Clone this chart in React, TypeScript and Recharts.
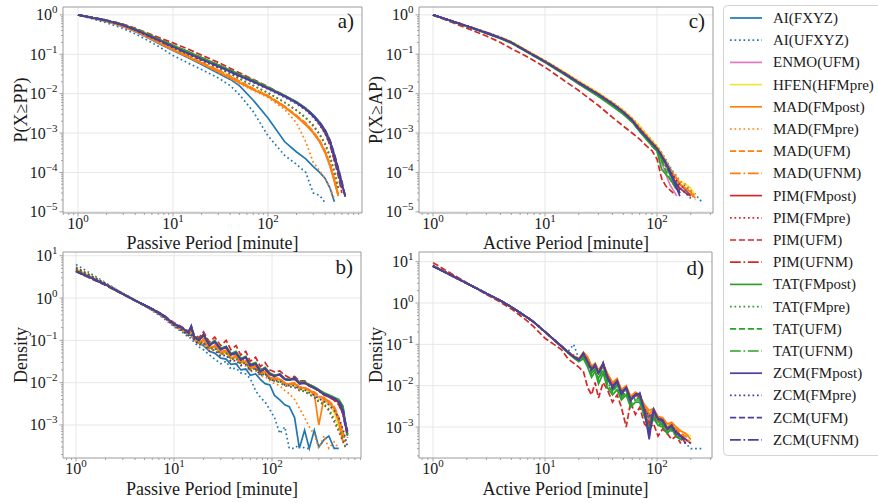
import React from 'react';
import { LineChart, Line, XAxis, YAxis, CartesianGrid } from 'recharts';

const FONT = "'Liberation Serif', 'Times New Roman', Times, serif";
const FRAME = '#9a9a9a';
const GRID = '#e4e4e4';
const TEXT = '#1a1a1a';

// ---------- series ----------
const SERIES_NAMES = [
  'AI(FXYZ)', 'AI(UFXYZ)', 'ENMO(UFM)', 'HFEN(HFMpre)',
  'MAD(FMpost)', 'MAD(FMpre)', 'MAD(UFM)', 'MAD(UFNM)',
  'PIM(FMpost)', 'PIM(FMpre)', 'PIM(UFM)', 'PIM(UFNM)',
  'TAT(FMpost)', 'TAT(FMpre)', 'TAT(UFM)', 'TAT(UFNM)',
  'ZCM(FMpost)', 'ZCM(FMpre)', 'ZCM(UFM)', 'ZCM(UFNM)',
];
const SERIES_COLORS = [
  '#1f77b4', '#1f77b4', '#e377c2', '#f2e53a',
  '#ff7f0e', '#ff7f0e', '#ff7f0e', '#ff7f0e',
  '#d62728', '#d62728', '#d62728', '#d62728',
  '#2ca02c', '#2ca02c', '#2ca02c', '#2ca02c',
  '#4d3f9e', '#4d3f9e', '#4d3f9e', '#4d3f9e',
];
const SOLID = undefined;
const DOTTED = '1.7 2.8';
const DASHED = '6.2 2.7';
const DASHDOT = '10.8 2.7 1.7 2.7';
const SERIES_DASH = [
  SOLID, DOTTED, SOLID, SOLID,
  SOLID, DOTTED, DASHED, DASHDOT,
  SOLID, DOTTED, DASHED, DASHDOT,
  SOLID, DOTTED, DASHED, DASHDOT,
  SOLID, DOTTED, DASHED, DASHDOT,
];

type Row = (number | null)[];

// ---------- a) CCDF of passive periods ----------
const X_PASSIVE_CCDF = [1, 2, 3, 4, 5, 7, 10, 15, 20, 30, 40, 50, 70, 100, 150, 200, 250, 300, 350, 400, 450, 500, 550, 600, 650];
const PASSIVE_CCDF: Record<string, Row> = {
  'AI(FXYZ)': [1, 0.68, 0.5, 0.38, 0.29, 0.19, 0.125, 0.078, 0.055, 0.033, 0.023, 0.016, 0.0068, 0.0024, 0.0006, 0.00033, 0.00022, 0.00014, 0.0001, 0.00007, 0.00004, 0.000018],
  'AI(UFXYZ)': [1, 0.63, 0.45, 0.33, 0.25, 0.16, 0.093, 0.057, 0.041, 0.025, 0.016, 0.0095, 0.0035, 0.00085, 0.00027, 0.00016, 0.0001, 0.00003, 0.000026, 0.000017],
  'ENMO(UFM)': [1, 0.69, 0.51, 0.39, 0.3, 0.2, 0.13, 0.083, 0.059, 0.037, 0.026, 0.0195, 0.0128, 0.0087, 0.0046, 0.0027, 0.0017, 0.001, 0.0006, 0.00031, 0.00014, 0.00006, 0.000026],
  'HFEN(HFMpre)': [1, 0.7, 0.52, 0.4, 0.31, 0.205, 0.135, 0.086, 0.061, 0.038, 0.027, 0.02, 0.013, 0.0089, 0.0047, 0.0027, 0.0017, 0.00105, 0.00062, 0.00033, 0.00015, 0.000065, 0.000025],
  'MAD(FMpost)': [1, 0.69, 0.51, 0.39, 0.3, 0.2, 0.13, 0.082, 0.058, 0.036, 0.025, 0.019, 0.0125, 0.0085, 0.0045, 0.0026, 0.0016, 0.001, 0.0006, 0.00032, 0.00015, 0.00006, 0.000025],
  'MAD(FMpre)': [1, 0.68, 0.5, 0.38, 0.29, 0.195, 0.127, 0.08, 0.057, 0.035, 0.024, 0.018, 0.012, 0.008, 0.004, 0.0018, 0.0006, 0.00018, 0.00011, 0.00007, 0.00004, 0.000022],
  'MAD(UFM)': [1, 0.7, 0.52, 0.4, 0.31, 0.21, 0.137, 0.088, 0.063, 0.04, 0.028, 0.021, 0.0135, 0.009, 0.0048, 0.0028, 0.0018, 0.0011, 0.00065, 0.00035, 0.00017, 0.00007, 0.000028],
  'MAD(UFNM)': [1, 0.7, 0.52, 0.4, 0.305, 0.205, 0.134, 0.086, 0.061, 0.039, 0.027, 0.0205, 0.013, 0.0088, 0.0047, 0.0027, 0.0017, 0.00105, 0.00063, 0.00033, 0.00016, 0.000065, 0.000026],
  'PIM(FMpost)': [1, 0.72, 0.56, 0.43, 0.34, 0.24, 0.165, 0.108, 0.08, 0.052, 0.038, 0.029, 0.021, 0.014, 0.0087, 0.006, 0.0041, 0.0027, 0.0017, 0.001, 0.00055, 0.00022, 0.0001, 0.00004],
  'PIM(FMpre)': [1, 0.71, 0.54, 0.42, 0.33, 0.225, 0.15, 0.097, 0.07, 0.045, 0.032, 0.024, 0.016, 0.0105, 0.006, 0.0037, 0.0024, 0.0015, 0.0009, 0.0005, 0.00024, 0.0001, 0.00004],
  'PIM(UFM)': [1, 0.74, 0.58, 0.46, 0.37, 0.27, 0.195, 0.13, 0.095, 0.062, 0.044, 0.034, 0.023, 0.015, 0.009, 0.006, 0.0041, 0.0027, 0.0017, 0.001, 0.0005, 0.0002, 0.00008, 0.00003],
  'PIM(UFNM)': [1, 0.73, 0.57, 0.44, 0.35, 0.25, 0.17, 0.112, 0.082, 0.053, 0.039, 0.03, 0.021, 0.0142, 0.0088, 0.006, 0.0042, 0.0028, 0.0018, 0.0011, 0.0006, 0.00025, 0.00011, 0.00004],
  'TAT(FMpost)': [1, 0.73, 0.57, 0.44, 0.35, 0.245, 0.17, 0.113, 0.083, 0.054, 0.04, 0.031, 0.022, 0.0145, 0.009, 0.0062, 0.0043, 0.0029, 0.0019, 0.0012, 0.00065, 0.00028, 0.00012, 0.00005, 0.000025],
  'TAT(FMpre)': [1, 0.71, 0.54, 0.42, 0.33, 0.225, 0.15, 0.097, 0.07, 0.045, 0.032, 0.024, 0.016, 0.0105, 0.006, 0.0038, 0.0025, 0.0016, 0.00095, 0.00055, 0.00027, 0.00011, 0.00004],
  'TAT(UFM)': [1, 0.73, 0.56, 0.44, 0.35, 0.24, 0.165, 0.11, 0.081, 0.052, 0.038, 0.03, 0.021, 0.0142, 0.0088, 0.006, 0.0042, 0.0028, 0.0018, 0.0011, 0.0006, 0.00026, 0.00011, 0.000045],
  'TAT(UFNM)': [1, 0.73, 0.57, 0.44, 0.35, 0.245, 0.168, 0.111, 0.082, 0.053, 0.039, 0.03, 0.0215, 0.0143, 0.0089, 0.0061, 0.0042, 0.0028, 0.0018, 0.0011, 0.0006, 0.00026, 0.00011, 0.00005],
  'ZCM(FMpost)': [1, 0.72, 0.55, 0.42, 0.33, 0.23, 0.155, 0.1, 0.074, 0.049, 0.036, 0.028, 0.02, 0.0135, 0.0085, 0.0058, 0.004, 0.0027, 0.0018, 0.0011, 0.0006, 0.00025, 0.00011, 0.00005, 0.000024],
  'ZCM(FMpre)': [1, 0.71, 0.54, 0.41, 0.32, 0.22, 0.148, 0.096, 0.071, 0.047, 0.034, 0.027, 0.019, 0.013, 0.008, 0.0055, 0.0038, 0.0025, 0.0016, 0.00095, 0.0005, 0.0002, 0.00009, 0.00004],
  'ZCM(UFM)': [1, 0.72, 0.55, 0.42, 0.33, 0.23, 0.156, 0.101, 0.075, 0.05, 0.037, 0.029, 0.0205, 0.0138, 0.0087, 0.006, 0.0042, 0.0028, 0.0019, 0.0012, 0.00065, 0.0003, 0.00013, 0.00006, 0.000026],
  'ZCM(UFNM)': [1, 0.72, 0.55, 0.42, 0.33, 0.23, 0.155, 0.1, 0.074, 0.049, 0.036, 0.028, 0.02, 0.0136, 0.0086, 0.0059, 0.0041, 0.0028, 0.0018, 0.0011, 0.00062, 0.00027, 0.00012, 0.000055, 0.000025],
};

// ---------- c) CCDF of active periods ----------
const X_ACTIVE_CCDF = [1, 2, 3, 4, 5, 7, 10, 15, 20, 30, 40, 50, 60, 70, 80, 90, 100, 110, 120, 130, 140, 150, 160, 180, 200, 220, 250];
const ACTIVE_CCDF: Record<string, Row> = {
  'AI(FXYZ)': [1, 0.53, 0.36, 0.27, 0.205, 0.12, 0.068, 0.034, 0.02, 0.01, 0.0059, 0.0037, 0.0023, 0.0014, 0.0009, 0.0006, 0.00045, 0.0003, 0.0002, 0.00013, 0.00009, 0.00007, 0.00005, 0.000035, 0.000026],
  'AI(UFXYZ)': [1, 0.53, 0.36, 0.27, 0.205, 0.12, 0.068, 0.034, 0.0205, 0.0102, 0.006, 0.0038, 0.0024, 0.0015, 0.00095, 0.00065, 0.00047, 0.00032, 0.00021, 0.00014, 0.0001, 0.00008, 0.00006, 0.000045, 0.000035, 0.000028, 0.000018],
  'ENMO(UFM)': [1, 0.52, 0.35, 0.26, 0.2, 0.116, 0.065, 0.032, 0.019, 0.0094, 0.0054, 0.0033, 0.002, 0.0012, 0.00078, 0.00052, 0.00038, 0.00018, 0.00009, 0.00005, 0.000035, 0.000025],
  'HFEN(HFMpre)': [1, 0.53, 0.36, 0.27, 0.21, 0.122, 0.07, 0.035, 0.021, 0.0105, 0.006, 0.0038, 0.0024, 0.0015, 0.00095, 0.00065, 0.00047, 0.0003, 0.0002, 0.00012, 0.00009, 0.00007, 0.00006, 0.00005, 0.00004, 0.000026],
  'MAD(FMpost)': [1, 0.52, 0.35, 0.26, 0.2, 0.117, 0.066, 0.033, 0.0195, 0.0098, 0.0057, 0.0035, 0.0022, 0.0013, 0.00085, 0.00058, 0.00042, 0.00028, 0.00018, 0.00012, 0.00009, 0.00007, 0.00005, 0.00004, 0.000032, 0.000022],
  'MAD(FMpre)': [1, 0.53, 0.36, 0.27, 0.21, 0.12, 0.069, 0.034, 0.0205, 0.0102, 0.006, 0.0037, 0.0023, 0.0014, 0.0009, 0.00062, 0.00045, 0.0003, 0.0002, 0.00013, 0.0001, 0.00008, 0.00006, 0.00005, 0.000035, 0.000024],
  'MAD(UFM)': [1, 0.52, 0.35, 0.26, 0.2, 0.117, 0.066, 0.033, 0.0195, 0.0097, 0.0056, 0.0035, 0.0022, 0.0013, 0.00085, 0.00058, 0.00042, 0.00027, 0.00017, 0.00011, 0.00008, 0.00006, 0.00005, 0.000038, 0.00003, 0.00002],
  'MAD(UFNM)': [1, 0.52, 0.35, 0.26, 0.2, 0.117, 0.066, 0.033, 0.0195, 0.0097, 0.0056, 0.0035, 0.0022, 0.0013, 0.00084, 0.00057, 0.00041, 0.00026, 0.00016, 0.0001, 0.00008, 0.00007, 0.00005, 0.00004, 0.00003],
  'PIM(FMpost)': [1, 0.52, 0.35, 0.26, 0.2, 0.115, 0.065, 0.032, 0.019, 0.0094, 0.0054, 0.0033, 0.0021, 0.0012, 0.0008, 0.00055, 0.0004, 0.00025, 0.00016, 0.0001, 0.00007, 0.00005, 0.00004, 0.00003, 0.000025],
  'PIM(FMpre)': [1, 0.52, 0.35, 0.26, 0.2, 0.116, 0.066, 0.033, 0.0195, 0.0097, 0.0056, 0.0034, 0.0022, 0.0013, 0.00085, 0.00058, 0.00042, 0.00026, 0.00017, 0.00011, 0.00008, 0.00006, 0.00005, 0.000035, 0.000025],
  'PIM(UFM)': [1, 0.46, 0.29, 0.2, 0.14, 0.085, 0.047, 0.021, 0.012, 0.005, 0.0025, 0.0015, 0.001, 0.0007, 0.00048, 0.00036, 0.00022, 0.00007, 0.000045, 0.000036, 0.00003],
  'PIM(UFNM)': [1, 0.52, 0.35, 0.26, 0.2, 0.115, 0.065, 0.032, 0.019, 0.0095, 0.0055, 0.0034, 0.0021, 0.0012, 0.0008, 0.00055, 0.0004, 0.00025, 0.00016, 0.0001, 0.00007, 0.00005, 0.000035],
  'TAT(FMpost)': [1, 0.51, 0.34, 0.25, 0.19, 0.11, 0.062, 0.03, 0.0175, 0.0085, 0.0048, 0.003, 0.0019, 0.0011, 0.0007, 0.00048, 0.00035, 0.00012, 0.00009, 0.00007, 0.00005, 0.00004, 0.00003],
  'TAT(FMpre)': [1, 0.52, 0.35, 0.26, 0.2, 0.115, 0.065, 0.032, 0.019, 0.0093, 0.0053, 0.0032, 0.002, 0.00115, 0.00075, 0.0005, 0.00036, 0.00022, 0.00014, 0.00009, 0.00006, 0.00004, 0.00003],
  'TAT(UFM)': [1, 0.51, 0.345, 0.255, 0.195, 0.112, 0.063, 0.031, 0.018, 0.0088, 0.005, 0.0031, 0.0019, 0.0011, 0.00072, 0.00048, 0.00034, 0.0002, 0.00011, 0.00007, 0.00005, 0.000035],
  'TAT(UFNM)': [1, 0.515, 0.345, 0.255, 0.195, 0.113, 0.064, 0.031, 0.0182, 0.009, 0.0052, 0.0032, 0.002, 0.00115, 0.00074, 0.0005, 0.00036, 0.00022, 0.00014, 0.00009, 0.00006, 0.00004, 0.00003],
  'ZCM(FMpost)': [1, 0.52, 0.35, 0.26, 0.2, 0.115, 0.065, 0.032, 0.019, 0.0095, 0.0055, 0.0034, 0.0021, 0.0012, 0.0008, 0.00055, 0.0004, 0.00026, 0.00017, 0.00011, 0.00006, 0.00004, 0.000025],
  'ZCM(FMpre)': [1, 0.52, 0.35, 0.26, 0.2, 0.115, 0.065, 0.032, 0.019, 0.0095, 0.0055, 0.0034, 0.0021, 0.0012, 0.0008, 0.00055, 0.0004, 0.00026, 0.00017, 0.00012, 0.00008, 0.00006, 0.00004, 0.00003, 0.000022],
  'ZCM(UFM)': [1, 0.52, 0.35, 0.26, 0.2, 0.115, 0.065, 0.032, 0.019, 0.0095, 0.0055, 0.0034, 0.0021, 0.0012, 0.0008, 0.00055, 0.0004, 0.00027, 0.00018, 0.00011, 0.00007, 0.00005, 0.00003],
  'ZCM(UFNM)': [1, 0.52, 0.35, 0.26, 0.2, 0.115, 0.065, 0.032, 0.019, 0.0095, 0.0055, 0.0034, 0.0021, 0.0012, 0.0008, 0.00055, 0.0004, 0.00026, 0.00016, 0.0001, 0.00007, 0.00004, 0.000028],
};

// ---------- b) density of passive periods ----------
const X_PASSIVE_DENSITY = [1, 2, 3, 4, 5, 6, 7, 8, 10, 12, 14, 15, 16, 18, 20, 23, 26, 30, 34, 38, 43, 48, 54, 60, 68, 76, 85, 95, 106, 120, 135, 150, 170, 190, 215, 240, 270, 300, 340, 380, 430, 480, 530, 560, 590];
const PASSIVE_DENSITY: Record<string, Row> = {
  'AI(FXYZ)': [4.8, 2.15, 1.28, 0.9, 0.68, 0.53, 0.43, 0.35, 0.23, 0.18, 0.135, 0.13, 0.105, 0.085, 0.075, 0.055, 0.05, 0.038, 0.036, 0.027, 0.028, 0.02, 0.021, 0.015, 0.016, 0.012, 0.0095, 0.0088, 0.005, 0.0039, 0.003, 0.0027, 0.0015, 0.00028, 0.00075, 0.00028, 0.00075, 0.0003, 0.00045, 0.00055, 0.00028, 0.00028],
  'AI(UFXYZ)': [6.2, 2.3, 1.3, 0.88, 0.65, 0.5, 0.4, 0.32, 0.21, 0.16, 0.12, 0.11, 0.09, 0.07, 0.06, 0.045, 0.036, 0.028, 0.032, 0.021, 0.022, 0.017, 0.016, 0.0125, 0.0065, 0.0045, 0.0035, 0.0023, 0.0015, 0.00063, 0.0009, 0.00028, 0.00028, 0.00035, 0.00028, 0.00028],
  'ENMO(UFM)': [4.7, 2.1, 1.27, 0.88, 0.67, 0.53, 0.43, 0.35, 0.23, 0.18, 0.14, 0.15, 0.11, 0.09, 0.095, 0.065, 0.072, 0.05, 0.052, 0.038, 0.04, 0.03, 0.031, 0.022, 0.024, 0.017, 0.018, 0.013, 0.0125, 0.0115, 0.0095, 0.009, 0.009, 0.0075, 0.0072, 0.0062, 0.0055, 0.0045, 0.004, 0.0033, 0.0024, 0.0012, 0.0005],
  'HFEN(HFMpre)': [5.0, 2.2, 1.3, 0.9, 0.68, 0.54, 0.44, 0.35, 0.23, 0.18, 0.14, 0.15, 0.11, 0.088, 0.095, 0.064, 0.07, 0.049, 0.05, 0.037, 0.039, 0.029, 0.03, 0.021, 0.023, 0.016, 0.017, 0.0125, 0.012, 0.011, 0.0092, 0.0088, 0.0088, 0.0073, 0.007, 0.006, 0.0052, 0.0042, 0.0037, 0.003, 0.002, 0.0009, 0.0004],
  'MAD(FMpost)': [4.6, 2.1, 1.27, 0.88, 0.67, 0.53, 0.43, 0.35, 0.23, 0.18, 0.14, 0.16, 0.11, 0.09, 0.1, 0.065, 0.07, 0.05, 0.055, 0.038, 0.04, 0.03, 0.032, 0.022, 0.024, 0.016, 0.018, 0.013, 0.012, 0.012, 0.0095, 0.009, 0.0095, 0.0075, 0.0075, 0.0065, 0.0055, 0.001, 0.0045, 0.0035, 0.0025, 0.0012, 0.0004],
  'MAD(FMpre)': [5.4, 2.2, 1.28, 0.88, 0.66, 0.52, 0.42, 0.34, 0.22, 0.17, 0.13, 0.13, 0.1, 0.08, 0.08, 0.058, 0.058, 0.043, 0.045, 0.032, 0.033, 0.025, 0.025, 0.018, 0.019, 0.014, 0.014, 0.011, 0.0095, 0.0085, 0.0065, 0.0055, 0.004, 0.0025, 0.0015, 0.0009, 0.0006, 0.00028, 0.00055, 0.00028, 0.0004, 0.00028],
  'MAD(UFM)': [4.5, 2.1, 1.26, 0.88, 0.67, 0.53, 0.43, 0.35, 0.235, 0.185, 0.145, 0.17, 0.115, 0.092, 0.11, 0.068, 0.078, 0.052, 0.06, 0.04, 0.045, 0.032, 0.034, 0.024, 0.026, 0.018, 0.019, 0.014, 0.013, 0.0125, 0.01, 0.0095, 0.01, 0.008, 0.0078, 0.0068, 0.006, 0.005, 0.0043, 0.0037, 0.0028, 0.0015, 0.0007, 0.0004],
  'MAD(UFNM)': [4.5, 2.1, 1.26, 0.88, 0.67, 0.53, 0.43, 0.35, 0.235, 0.18, 0.14, 0.165, 0.112, 0.09, 0.105, 0.067, 0.075, 0.051, 0.058, 0.039, 0.043, 0.031, 0.033, 0.023, 0.025, 0.017, 0.0185, 0.0135, 0.0125, 0.012, 0.0098, 0.0092, 0.0097, 0.0078, 0.0076, 0.0066, 0.0058, 0.0048, 0.0042, 0.0036, 0.0027, 0.0014, 0.0006, 0.00035],
  'PIM(FMpost)': [4.4, 2.1, 1.25, 0.88, 0.68, 0.55, 0.45, 0.37, 0.245, 0.2, 0.155, 0.21, 0.125, 0.105, 0.135, 0.078, 0.095, 0.062, 0.07, 0.047, 0.052, 0.036, 0.04, 0.026, 0.029, 0.019, 0.022, 0.016, 0.0145, 0.0155, 0.012, 0.0115, 0.0125, 0.0095, 0.0098, 0.0085, 0.0075, 0.0064, 0.0052, 0.0047, 0.004, 0.0034, 0.002, 0.0011, 0.0006],
  'PIM(FMpre)': [4.9, 2.15, 1.27, 0.88, 0.67, 0.53, 0.43, 0.35, 0.23, 0.18, 0.14, 0.15, 0.105, 0.085, 0.09, 0.062, 0.066, 0.047, 0.05, 0.036, 0.037, 0.028, 0.029, 0.02, 0.022, 0.015, 0.016, 0.012, 0.011, 0.01, 0.0085, 0.008, 0.0078, 0.0065, 0.0062, 0.0052, 0.0045, 0.0035, 0.003, 0.0022, 0.0012, 0.0007, 0.0004, 0.0003],
  'PIM(UFM)': [4.2, 2.0, 1.22, 0.87, 0.68, 0.56, 0.46, 0.38, 0.26, 0.21, 0.165, 0.2, 0.14, 0.115, 0.16, 0.09, 0.12, 0.075, 0.1, 0.06, 0.075, 0.045, 0.055, 0.032, 0.04, 0.024, 0.03, 0.02, 0.018, 0.019, 0.015, 0.013, 0.014, 0.011, 0.011, 0.009, 0.008, 0.0068, 0.0055, 0.0048, 0.0038, 0.003, 0.0018, 0.0009, 0.0005],
  'PIM(UFNM)': [4.3, 2.05, 1.24, 0.88, 0.68, 0.55, 0.45, 0.37, 0.25, 0.2, 0.155, 0.2, 0.125, 0.104, 0.13, 0.08, 0.092, 0.063, 0.068, 0.048, 0.05, 0.037, 0.039, 0.027, 0.028, 0.02, 0.021, 0.016, 0.015, 0.015, 0.0122, 0.0115, 0.012, 0.0096, 0.0097, 0.0084, 0.0074, 0.0063, 0.0051, 0.0046, 0.0039, 0.0032, 0.0018, 0.001, 0.0005],
  'TAT(FMpost)': [4.4, 2.1, 1.25, 0.88, 0.68, 0.55, 0.45, 0.37, 0.245, 0.2, 0.155, 0.22, 0.125, 0.105, 0.14, 0.08, 0.1, 0.065, 0.072, 0.049, 0.055, 0.037, 0.042, 0.027, 0.03, 0.02, 0.023, 0.017, 0.015, 0.016, 0.0125, 0.012, 0.013, 0.0105, 0.0105, 0.009, 0.008, 0.0068, 0.0058, 0.0052, 0.0045, 0.004, 0.0028, 0.0012, 0.0006],
  'TAT(FMpre)': [5.0, 2.15, 1.27, 0.88, 0.67, 0.53, 0.43, 0.35, 0.23, 0.18, 0.14, 0.15, 0.105, 0.086, 0.09, 0.062, 0.067, 0.047, 0.05, 0.036, 0.037, 0.028, 0.029, 0.02, 0.022, 0.015, 0.016, 0.012, 0.011, 0.0102, 0.0086, 0.0081, 0.0079, 0.0066, 0.0063, 0.0053, 0.0046, 0.0037, 0.0031, 0.0024, 0.0014, 0.0008, 0.0005, 0.0003],
  'TAT(UFM)': [4.3, 2.05, 1.24, 0.88, 0.68, 0.55, 0.45, 0.37, 0.248, 0.2, 0.156, 0.2, 0.126, 0.105, 0.13, 0.079, 0.093, 0.063, 0.069, 0.048, 0.052, 0.037, 0.04, 0.027, 0.029, 0.02, 0.022, 0.016, 0.015, 0.0155, 0.0122, 0.0116, 0.0125, 0.0098, 0.01, 0.0087, 0.0077, 0.0066, 0.0055, 0.005, 0.0043, 0.0037, 0.0023, 0.0011, 0.0006],
  'TAT(UFNM)': [4.3, 2.05, 1.24, 0.88, 0.68, 0.55, 0.45, 0.37, 0.247, 0.2, 0.155, 0.2, 0.125, 0.104, 0.132, 0.079, 0.094, 0.062, 0.07, 0.048, 0.051, 0.036, 0.04, 0.026, 0.029, 0.0195, 0.022, 0.016, 0.0148, 0.0153, 0.012, 0.0115, 0.0124, 0.0097, 0.0099, 0.0086, 0.0076, 0.0065, 0.0054, 0.0049, 0.0042, 0.0036, 0.0022, 0.0011, 0.00055],
  'ZCM(FMpost)': [4.3, 2.1, 1.25, 0.88, 0.68, 0.55, 0.45, 0.37, 0.24, 0.2, 0.15, 0.22, 0.12, 0.1, 0.14, 0.075, 0.095, 0.06, 0.07, 0.045, 0.05, 0.034, 0.04, 0.025, 0.028, 0.018, 0.022, 0.016, 0.014, 0.016, 0.012, 0.0115, 0.013, 0.0095, 0.01, 0.0085, 0.0075, 0.0065, 0.0052, 0.0048, 0.0041, 0.0035, 0.0019, 0.001, 0.0007],
  'ZCM(FMpre)': [5.2, 2.2, 1.28, 0.88, 0.66, 0.52, 0.42, 0.34, 0.22, 0.17, 0.13, 0.14, 0.1, 0.078, 0.085, 0.055, 0.06, 0.042, 0.045, 0.032, 0.034, 0.026, 0.027, 0.019, 0.021, 0.015, 0.016, 0.012, 0.011, 0.011, 0.0088, 0.0085, 0.0085, 0.007, 0.0068, 0.0058, 0.005, 0.0042, 0.0036, 0.003, 0.0022, 0.0015, 0.0008, 0.0005, 0.0003],
  'ZCM(UFM)': [4.3, 2.05, 1.24, 0.88, 0.68, 0.55, 0.45, 0.37, 0.245, 0.2, 0.152, 0.2, 0.122, 0.102, 0.13, 0.077, 0.09, 0.061, 0.068, 0.046, 0.05, 0.035, 0.039, 0.026, 0.028, 0.019, 0.021, 0.016, 0.0145, 0.0155, 0.012, 0.0115, 0.0125, 0.0096, 0.0098, 0.0086, 0.0076, 0.0066, 0.0054, 0.0049, 0.0043, 0.0037, 0.0025, 0.0012, 0.0007],
  'ZCM(UFNM)': [4.3, 2.05, 1.24, 0.88, 0.68, 0.55, 0.45, 0.37, 0.243, 0.2, 0.151, 0.21, 0.121, 0.101, 0.135, 0.076, 0.092, 0.06, 0.069, 0.046, 0.05, 0.035, 0.039, 0.025, 0.028, 0.019, 0.021, 0.016, 0.0142, 0.0158, 0.012, 0.0115, 0.0128, 0.0095, 0.0099, 0.0085, 0.0075, 0.0065, 0.0053, 0.0048, 0.0042, 0.0036, 0.0022, 0.0011, 0.0006],
};

// ---------- d) density of active periods ----------
const X_ACTIVE_DENSITY = [1, 2, 3, 4, 5, 6, 7, 8, 10, 12, 14, 16, 18, 20, 22, 24, 26, 28, 30, 33, 36, 40, 44, 48, 53, 58, 64, 70, 77, 85, 93, 102, 112, 123, 135, 148, 163, 180, 200, 220, 250];
const ACTIVE_DENSITY: Record<string, Row> = {
  'AI(FXYZ)': [8.0, 3.0, 1.7, 1.15, 0.8, 0.58, 0.44, 0.34, 0.2, 0.13, 0.09, 0.066, 0.052, 0.045, 0.05, 0.042, 0.028, 0.03, 0.022, 0.03, 0.018, 0.011, 0.013, 0.008, 0.008, 0.005, 0.006, 0.005, 0.003, 0.0018, 0.0022, 0.0015, 0.0013, 0.001, 0.0009, 0.0007, 0.0006, 0.0005, 0.0004],
  'AI(UFXYZ)': [8.3, 3.05, 1.7, 1.15, 0.8, 0.58, 0.44, 0.34, 0.2, 0.13, 0.09, 0.066, 0.1, 0.045, 0.052, 0.04, 0.03, 0.03, 0.022, 0.028, 0.018, 0.012, 0.012, 0.008, 0.0075, 0.0055, 0.0055, 0.0045, 0.003, 0.002, 0.002, 0.0014, 0.0012, 0.0009, 0.0008, 0.0006, 0.0005, 0.0004, 0.0003, 0.0003, 0.0003],
  'ENMO(UFM)': [7.9, 3.0, 1.7, 1.15, 0.8, 0.58, 0.44, 0.34, 0.2, 0.13, 0.09, 0.065, 0.05, 0.043, 0.055, 0.04, 0.026, 0.03, 0.021, 0.03, 0.017, 0.01, 0.012, 0.007, 0.0085, 0.005, 0.0055, 0.0055, 0.0028, 0.0015, 0.002, 0.0014, 0.0012, 0.0008, 0.0009, 0.0006, 0.0005],
  'HFEN(HFMpre)': [8.1, 3.0, 1.7, 1.15, 0.8, 0.58, 0.44, 0.34, 0.2, 0.13, 0.09, 0.066, 0.052, 0.045, 0.058, 0.045, 0.03, 0.032, 0.023, 0.033, 0.019, 0.012, 0.014, 0.008, 0.009, 0.0055, 0.0065, 0.006, 0.0032, 0.002, 0.0025, 0.0017, 0.0016, 0.0011, 0.0012, 0.0009, 0.0008, 0.0007, 0.0006],
  'MAD(FMpost)': [8.0, 3.0, 1.7, 1.15, 0.8, 0.58, 0.44, 0.34, 0.2, 0.13, 0.09, 0.066, 0.052, 0.045, 0.065, 0.05, 0.03, 0.035, 0.024, 0.035, 0.02, 0.012, 0.015, 0.008, 0.01, 0.0055, 0.007, 0.006, 0.0035, 0.0025, 0.0028, 0.0018, 0.0017, 0.0012, 0.0013, 0.001, 0.0008, 0.0007, 0.0005],
  'MAD(FMpre)': [8.2, 3.0, 1.7, 1.15, 0.8, 0.58, 0.44, 0.34, 0.2, 0.13, 0.09, 0.066, 0.055, 0.045, 0.055, 0.042, 0.028, 0.03, 0.022, 0.03, 0.018, 0.011, 0.013, 0.0075, 0.008, 0.005, 0.006, 0.005, 0.003, 0.002, 0.0022, 0.0015, 0.0013, 0.001, 0.0009, 0.0007, 0.0006, 0.0005, 0.0004],
  'MAD(UFM)': [7.9, 3.0, 1.7, 1.15, 0.8, 0.58, 0.44, 0.34, 0.2, 0.13, 0.09, 0.066, 0.051, 0.044, 0.062, 0.046, 0.028, 0.033, 0.023, 0.034, 0.019, 0.011, 0.014, 0.0075, 0.0095, 0.005, 0.0065, 0.006, 0.003, 0.0022, 0.0026, 0.0017, 0.0016, 0.0011, 0.0012, 0.0009, 0.0007, 0.0006, 0.0004],
  'MAD(UFNM)': [7.9, 3.0, 1.7, 1.15, 0.8, 0.58, 0.44, 0.34, 0.2, 0.13, 0.09, 0.066, 0.051, 0.044, 0.06, 0.045, 0.027, 0.033, 0.022, 0.034, 0.018, 0.011, 0.014, 0.0072, 0.0092, 0.005, 0.0063, 0.006, 0.0029, 0.0021, 0.0025, 0.0016, 0.0015, 0.001, 0.0011, 0.0008, 0.0007, 0.0005],
  'PIM(FMpost)': [7.8, 3.0, 1.7, 1.15, 0.8, 0.58, 0.44, 0.34, 0.2, 0.13, 0.09, 0.065, 0.05, 0.042, 0.058, 0.037, 0.024, 0.03, 0.02, 0.033, 0.016, 0.0095, 0.013, 0.0068, 0.009, 0.0046, 0.006, 0.0062, 0.0026, 0.0009, 0.0024, 0.0015, 0.0014, 0.0009, 0.001, 0.0007, 0.0006, 0.0004],
  'PIM(FMpre)': [8.0, 3.0, 1.7, 1.15, 0.8, 0.58, 0.44, 0.34, 0.2, 0.13, 0.09, 0.066, 0.051, 0.044, 0.055, 0.04, 0.026, 0.03, 0.021, 0.031, 0.017, 0.01, 0.012, 0.007, 0.0085, 0.005, 0.0058, 0.0055, 0.0028, 0.0016, 0.0021, 0.0015, 0.0013, 0.0009, 0.0009, 0.0007, 0.0006, 0.0005, 0.0004],
  'PIM(UFM)': [9.5, 3.1, 1.6, 1.05, 0.72, 0.5, 0.36, 0.26, 0.14, 0.1, 0.075, 0.045, 0.035, 0.028, 0.022, 0.009, 0.006, 0.012, 0.005, 0.012, 0.008, 0.004, 0.006, 0.003, 0.001, 0.004, 0.002, 0.003, 0.0012, 0.0009, 0.0012, 0.0006, 0.0009, 0.0007, 0.0005, 0.0006, 0.0004],
  'PIM(UFNM)': [7.8, 3.0, 1.7, 1.15, 0.8, 0.58, 0.44, 0.34, 0.2, 0.13, 0.09, 0.065, 0.05, 0.042, 0.057, 0.037, 0.024, 0.03, 0.02, 0.032, 0.016, 0.0095, 0.0125, 0.0066, 0.0088, 0.0045, 0.006, 0.006, 0.0025, 0.0012, 0.0024, 0.0015, 0.0014, 0.0009, 0.0011, 0.0008, 0.0006, 0.0005],
  'TAT(FMpost)': [7.8, 3.0, 1.7, 1.15, 0.8, 0.58, 0.44, 0.34, 0.2, 0.13, 0.088, 0.062, 0.047, 0.038, 0.045, 0.028, 0.016, 0.022, 0.011, 0.02, 0.009, 0.006, 0.008, 0.0045, 0.006, 0.003, 0.004, 0.004, 0.0018, 0.0009, 0.0016, 0.0011, 0.001, 0.0007, 0.0009, 0.0006, 0.0005],
  'TAT(FMpre)': [8.0, 3.0, 1.7, 1.15, 0.8, 0.58, 0.44, 0.34, 0.2, 0.13, 0.09, 0.065, 0.05, 0.043, 0.055, 0.038, 0.025, 0.03, 0.02, 0.03, 0.017, 0.01, 0.012, 0.007, 0.0085, 0.0048, 0.0058, 0.0055, 0.0027, 0.0015, 0.002, 0.0014, 0.0012, 0.0009, 0.0009, 0.0007, 0.0006, 0.0005],
  'TAT(UFM)': [7.8, 3.0, 1.7, 1.15, 0.8, 0.58, 0.44, 0.34, 0.2, 0.13, 0.089, 0.063, 0.048, 0.04, 0.05, 0.032, 0.018, 0.025, 0.014, 0.025, 0.011, 0.007, 0.01, 0.005, 0.007, 0.0035, 0.0045, 0.0045, 0.002, 0.0008, 0.0018, 0.0012, 0.0011, 0.0007, 0.0009, 0.0006, 0.0005],
  'TAT(UFNM)': [7.8, 3.0, 1.7, 1.15, 0.8, 0.58, 0.44, 0.34, 0.2, 0.13, 0.089, 0.063, 0.048, 0.04, 0.052, 0.033, 0.02, 0.026, 0.015, 0.027, 0.012, 0.0075, 0.011, 0.0055, 0.0075, 0.0038, 0.005, 0.005, 0.0022, 0.001, 0.002, 0.0013, 0.0012, 0.0008, 0.001, 0.0007, 0.0005],
  'ZCM(FMpost)': [7.8, 3.0, 1.7, 1.15, 0.8, 0.58, 0.44, 0.34, 0.2, 0.13, 0.09, 0.065, 0.05, 0.042, 0.06, 0.038, 0.024, 0.032, 0.02, 0.035, 0.016, 0.009, 0.013, 0.0065, 0.009, 0.0045, 0.006, 0.0065, 0.0025, 0.0005, 0.0026, 0.0016, 0.0015, 0.0009, 0.0011, 0.0007, 0.0006, 0.0005],
  'ZCM(FMpre)': [8.1, 3.0, 1.7, 1.15, 0.8, 0.58, 0.44, 0.34, 0.2, 0.13, 0.09, 0.066, 0.052, 0.044, 0.056, 0.04, 0.026, 0.031, 0.021, 0.032, 0.017, 0.01, 0.013, 0.007, 0.0088, 0.005, 0.006, 0.0058, 0.0028, 0.0018, 0.0023, 0.0016, 0.0014, 0.001, 0.001, 0.0008, 0.0006, 0.0005, 0.0004],
  'ZCM(UFM)': [7.8, 3.0, 1.7, 1.15, 0.8, 0.58, 0.44, 0.34, 0.2, 0.13, 0.09, 0.065, 0.05, 0.042, 0.062, 0.038, 0.023, 0.033, 0.019, 0.036, 0.015, 0.0085, 0.013, 0.006, 0.0092, 0.0042, 0.0062, 0.0068, 0.0024, 0.0006, 0.0027, 0.0016, 0.0015, 0.0009, 0.0011, 0.0007, 0.0006, 0.0004],
  'ZCM(UFNM)': [7.8, 3.0, 1.7, 1.15, 0.8, 0.58, 0.44, 0.34, 0.2, 0.13, 0.09, 0.065, 0.05, 0.042, 0.058, 0.037, 0.025, 0.031, 0.02, 0.034, 0.016, 0.009, 0.0125, 0.0063, 0.0088, 0.0044, 0.0058, 0.0063, 0.0025, 0.0007, 0.0025, 0.0016, 0.0014, 0.0009, 0.001, 0.0007, 0.0006, 0.0005],
};

// ---------- helpers ----------
function toPoints(xs: number[], ys: Row) {
  const out: { x: number; y: number }[] = [];
  for (let i = 0; i < xs.length; i++) {
    const v = ys[i];
    if (v != null && v > 0) out.push({ x: xs[i], y: v });
  }
  return out;
}

function logTicks(min: number, max: number) {
  const all: number[] = [];
  const e0 = Math.floor(Math.log10(min));
  const e1 = Math.ceil(Math.log10(max));
  for (let e = e0; e <= e1; e++) {
    for (let m = 1; m < 10; m++) {
      const v = m * Math.pow(10, e);
      if (v >= min * 0.9999 && v <= max * 1.0001) all.push(v);
    }
  }
  return all;
}

function isMajor(v: number) {
  const l = Math.log10(v);
  return Math.abs(l - Math.round(l)) < 1e-6;
}

function expLabel(v: number) {
  const e = Math.round(Math.log10(v));
  return e < 0 ? '\u2212' + Math.abs(e) : String(e);
}

const XTick = (props: any) => {
  const { x, y, payload } = props;
  const major = isMajor(payload.value);
  return (
    <g>
      <line x1={x} x2={x} y1={y} y2={y + (major ? 3.5 : 2)} stroke={FRAME} strokeWidth={0.9} />
      {major && (
        <text x={x} y={y + 16} textAnchor="middle" fontFamily={FONT} fontSize={16} fill={TEXT}>
          <tspan>10</tspan>
          <tspan dy={-7} fontSize={11}>{expLabel(payload.value)}</tspan>
        </text>
      )}
    </g>
  );
};

const YTick = (props: any) => {
  const { x, y, payload } = props;
  const major = isMajor(payload.value);
  return (
    <g>
      <line x1={x - (major ? 3.5 : 2)} x2={x} y1={y} y2={y} stroke={FRAME} strokeWidth={0.9} />
      {major && (
        <text x={x - 5.5} y={y + 5.5} textAnchor="end" fontFamily={FONT} fontSize={16} fill={TEXT}>
          <tspan>10</tspan>
          <tspan dy={-7} fontSize={11}>{expLabel(payload.value)}</tspan>
        </text>
      )}
    </g>
  );
};

type PanelProps = {
  rect: [number, number, number, number];
  xDomain: [number, number];
  yDomain: [number, number];
  xs: number[];
  data: Record<string, Row>;
};

function Panel({ rect, xDomain, yDomain, xs, data }: PanelProps) {
  const [L, T, R, B] = rect;
  const W = R - L + 75;
  const H = B - T + 60;
  const xt = logTicks(xDomain[0], xDomain[1]);
  const yt = logTicks(yDomain[0], yDomain[1]);
  const xMajors = xt.filter(isMajor);
  const yMajors = yt.filter(isMajor);
  return (
    <div style={{ position: 'absolute', left: L - 60, top: T - 15, width: W, height: H }}>
      <LineChart width={W} height={H} margin={{ top: 14, right: 14, bottom: 5, left: 5 }}>
        <CartesianGrid stroke={GRID} strokeWidth={0.9} verticalValues={xMajors} horizontalValues={yMajors} />
        <XAxis
          xAxisId={0} type="number" dataKey="x" scale="log" domain={xDomain} allowDataOverflow
          ticks={xt} interval={0} height={40} tickSize={0} tickMargin={0}
          axisLine={{ stroke: FRAME }} tickLine={false} tick={(p: any) => <XTick {...p} />}
        />
        <XAxis
          xAxisId="top" orientation="top" type="number" scale="log" domain={xDomain} allowDataOverflow
          height={1} tick={false} tickLine={false} axisLine={{ stroke: FRAME }}
        />
        <YAxis
          yAxisId={0} type="number" scale="log" domain={yDomain} allowDataOverflow
          ticks={yt} interval={0} width={55} tickSize={0} tickMargin={0}
          axisLine={{ stroke: FRAME }} tickLine={false} tick={(p: any) => <YTick {...p} />}
        />
        <YAxis
          yAxisId="right" orientation="right" type="number" scale="log" domain={yDomain} allowDataOverflow
          width={1} tick={false} tickLine={false} axisLine={{ stroke: FRAME }}
        />
        {SERIES_NAMES.map((n, i) => (
          <Line
            key={n}
            xAxisId={0}
            yAxisId={0}
            data={toPoints(xs, data[n])}
            dataKey="y"
            type="linear"
            stroke={SERIES_COLORS[i]}
            strokeWidth={1.7}
            strokeDasharray={SERIES_DASH[i]}
            dot={false}
            activeDot={false}
            isAnimationActive={false}
          />
        ))}
      </LineChart>
    </div>
  );
}

const D = (e: number) => Math.pow(10, e);

export default function App() {
  const legendTop = 18;
  const legendStep = 22.2;
  return (
    <div style={{ position: 'absolute', left: 0, top: 0, width: 878, height: 503, background: '#fff', overflow: 'hidden' }}>
      <Panel rect={[63, 7, 362, 213]} xDomain={[D(-0.158), D(2.99)]} yDomain={[D(-5.03), D(0.2)]} xs={X_PASSIVE_CCDF} data={PASSIVE_CCDF} />
      <Panel rect={[419, 7, 713, 213]} xDomain={[D(-0.125), D(2.5)]} yDomain={[D(-5.03), D(0.2)]} xs={X_ACTIVE_CCDF} data={ACTIVE_CCDF} />
      <Panel rect={[63, 252, 361, 458]} xDomain={[D(-0.133), D(2.908)]} yDomain={[D(-3.78), D(1.088)]} xs={X_PASSIVE_DENSITY} data={PASSIVE_DENSITY} />
      <Panel rect={[419, 252, 712, 458]} xDomain={[D(-0.125), D(2.49)]} yDomain={[D(-3.75), D(1.235)]} xs={X_ACTIVE_DENSITY} data={ACTIVE_DENSITY} />
      <svg width={878} height={503} style={{ position: 'absolute', left: 0, top: 0, pointerEvents: 'none' }} fontFamily={FONT}>
        <g fill={TEXT} fontSize={18}>
          <text transform="translate(27,110) rotate(-90)" textAnchor="middle">P(X≥PP)</text>
          <text transform="translate(382,110) rotate(-90)" textAnchor="middle">P(X≥AP)</text>
          <text transform="translate(27,355) rotate(-90)" textAnchor="middle">Density</text>
          <text transform="translate(382,355) rotate(-90)" textAnchor="middle">Density</text>
          <text x={212.5} y={249} textAnchor="middle">Passive Period [minute]</text>
          <text x={566} y={249} textAnchor="middle">Active Period [minute]</text>
          <text x={212} y={495} textAnchor="middle">Passive Period [minute]</text>
          <text x={565.5} y={495} textAnchor="middle">Active Period [minute]</text>
        </g>
        <g fill={TEXT} fontSize={21}>
          <text x={354} y={28} textAnchor="end">a)</text>
          <text x={705} y={28} textAnchor="end">c)</text>
          <text x={353} y={274} textAnchor="end">b)</text>
          <text x={704} y={275} textAnchor="end">d)</text>
        </g>
        <rect x={723.5} y={5.5} width={170} height={450} rx={4} fill="#fff" stroke="#d4d4d4" />
        {SERIES_NAMES.map((n, i) => {
          const cy = legendTop + legendStep * i;
          return (
            <g key={n}>
              <line x1={730} x2={762} y1={cy} y2={cy} stroke={SERIES_COLORS[i]} strokeWidth={1.7} strokeDasharray={SERIES_DASH[i]} />
              <text x={773} y={cy + 5} fontSize={15} fill={TEXT}>{n}</text>
            </g>
          );
        })}
      </svg>
    </div>
  );
}
